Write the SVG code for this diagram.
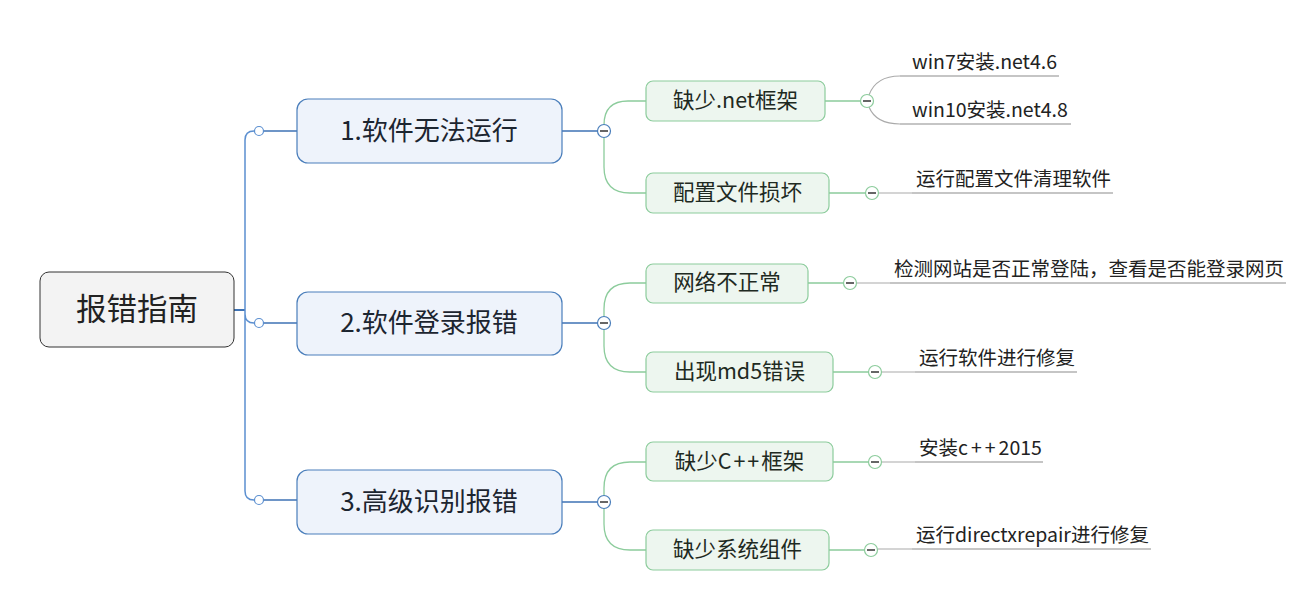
<svg xmlns="http://www.w3.org/2000/svg" width="1301" height="612" viewBox="0 0 1301 612">
<style>
text{font-family:"Microsoft YaHei","Noto Sans CJK SC",sans-serif;fill:#222}
.root rect{fill:#f3f3f3;stroke:#333;stroke-width:1}
.root text{font-size:30.5px;text-anchor:middle}
.l1 rect{fill:#eef3fb;stroke:#4a7ebb;stroke-width:1.2}
.l1 text{font-size:26px;text-anchor:middle;fill:#1c2530}
.l2 rect{fill:#edf6ef;stroke:#8ccc9c;stroke-width:1.2}
.l2 text{font-size:21.5px;text-anchor:middle;fill:#1e2a22}
.leaf text{font-size:19.5px;fill:#222}
.leaf line{stroke:#8c8c8c;stroke-width:1.2}
.trunk{fill:none;stroke:#5b8fd0;stroke-width:1.5}
.blue{fill:none;stroke:#3f73b5;stroke-width:1.3}
.green{fill:none;stroke:#8ccc9c;stroke-width:1.3}
.grey{fill:none;stroke:#aaa;stroke-width:1.2}
.dot{fill:#fff;stroke:#5b8fd0;stroke-width:1.2}
.cb circle{fill:#fff;stroke:#4a7ebb;stroke-width:1.2}
.cg circle{fill:#fff;stroke:#8ccc9c;stroke-width:1.2}
.mn{stroke:#333;stroke-width:1.5}
</style>
<g id="connectors">
  <line x1="234" y1="310" x2="245" y2="310" stroke="#3f73b5" stroke-width="2"/>
  <path class="trunk" d="M245,140 L245,491 M245,140 Q245,131 254,131 M245,314 Q245,323 254,323 M245,491 Q245,500 254,500"/>
  <path class="blue" d="M264,131 L297,131 M264,323 L297,323 M264,500 L297,500 M562,131 L598,131 M562,323 L598,323 M562,502 L598,502"/>
  <circle class="dot" cx="259" cy="131" r="4.5"/>
  <circle class="dot" cx="259" cy="323" r="4.5"/>
  <circle class="dot" cx="259" cy="500" r="4.5"/>
  <path class="green" d="M604,125 Q604,101 628,101 L646,101 M604,137 L604,167 Q604,193 630,193 L646,193"/>
  <path class="green" d="M604,317 L604,309 Q604,283 630,283 L646,283 M604,329 L604,346 Q604,372 630,372 L646,372"/>
  <path class="green" d="M604,496 L604,488 Q604,462 630,462 L646,462 M604,508 L604,524 Q604,550 630,550 L646,550"/>
  <path class="green" d="M825,101 L861,101 M829,193 L866,193 M808,283 L844,283 M833,372 L869,372 M833,462 L869,462 M829,550 L865,550"/>
  <path class="grey" d="M869,95 Q876,76 900,76 M869,107 Q876,124 900,124 M878,193 L912,193 M856,283 L890,283 M881,372 L915,372 M881,462 L915,462 M877,549 L912,549"/>
  <g class="cb">
    <circle cx="604" cy="131" r="6.5"/><line class="mn" x1="600" y1="131" x2="608" y2="131"/>
    <circle cx="604" cy="323" r="6.5"/><line class="mn" x1="600" y1="323" x2="608" y2="323"/>
    <circle cx="604" cy="502" r="6.5"/><line class="mn" x1="600" y1="502" x2="608" y2="502"/>
  </g>
  <g class="cg">
    <circle cx="867" cy="101" r="6.5"/><line class="mn" x1="863" y1="101" x2="871" y2="101"/>
    <circle cx="872" cy="193" r="6.5"/><line class="mn" x1="868" y1="193" x2="876" y2="193"/>
    <circle cx="850" cy="283" r="6.5"/><line class="mn" x1="846" y1="283" x2="854" y2="283"/>
    <circle cx="875" cy="372" r="6.5"/><line class="mn" x1="871" y1="372" x2="879" y2="372"/>
    <circle cx="875" cy="462" r="6.5"/><line class="mn" x1="871" y1="462" x2="879" y2="462"/>
    <circle cx="871" cy="550" r="6.5"/><line class="mn" x1="867" y1="550" x2="875" y2="550"/>
  </g>
</g>
<g id="root" class="root"><rect x="40" y="272" width="194" height="75" rx="9"/><text x="137" y="320">报错指南</text></g>
<g id="n1" class="l1"><rect x="297" y="99" width="265" height="64" rx="11"/><text x="429" y="140">1.软件无法运行</text></g>
<g id="n2" class="l1"><rect x="297" y="292" width="265" height="63" rx="11"/><text x="429" y="332">2.软件登录报错</text></g>
<g id="n3" class="l1"><rect x="297" y="470" width="265" height="64" rx="11"/><text x="429" y="511">3.高级识别报错</text></g>
<g id="n1a" class="l2"><rect x="646" y="81" width="179" height="40" rx="7"/><text x="735.5" y="108">缺少.net框架</text></g>
<g id="n1b" class="l2"><rect x="646" y="173" width="183" height="40" rx="7"/><text x="737.5" y="200">配置文件损坏</text></g>
<g id="n2a" class="l2"><rect x="646" y="264" width="162" height="39" rx="7"/><text x="727" y="290">网络不正常</text></g>
<g id="n2b" class="l2"><rect x="646" y="352" width="187" height="40" rx="7"/><text x="739.5" y="379">出现md5错误</text></g>
<g id="n3a" class="l2"><rect x="646" y="442" width="187" height="39" rx="7"/><text x="739.5" y="469">缺少C<tspan dx="2">+</tspan><tspan dx="2">+</tspan><tspan dx="2">框架</tspan></text></g>
<g id="n3b" class="l2"><rect x="646" y="530" width="183" height="40" rx="7"/><text x="737.5" y="557">缺少系统组件</text></g>
<g id="leaf1" class="leaf"><line x1="900" y1="76" x2="1059" y2="76"/><text x="912" y="69">win7安装.net4.6</text></g>
<g id="leaf2" class="leaf"><line x1="900" y1="124" x2="1071" y2="124"/><text x="912" y="117">win10安装.net4.8</text></g>
<g id="leaf3" class="leaf"><line x1="912" y1="193" x2="1113" y2="193"/><text x="916" y="186">运行配置文件清理软件</text></g>
<g id="leaf4" class="leaf"><line x1="890" y1="283" x2="1286" y2="283"/><text x="894" y="276">检测网站是否正常登陆，查看是否能登录网页</text></g>
<g id="leaf5" class="leaf"><line x1="915" y1="372" x2="1077" y2="372"/><text x="919" y="365">运行软件进行修复</text></g>
<g id="leaf6" class="leaf"><line x1="915" y1="462" x2="1043" y2="462"/><text x="919" y="455">安装c<tspan dx="3">+</tspan><tspan dx="3">+</tspan><tspan dx="3">2015</tspan></text></g>
<g id="leaf7" class="leaf"><line x1="912" y1="549" x2="1151" y2="549"/><text x="916" y="542">运行directxrepair进行修复</text></g>
</svg>
